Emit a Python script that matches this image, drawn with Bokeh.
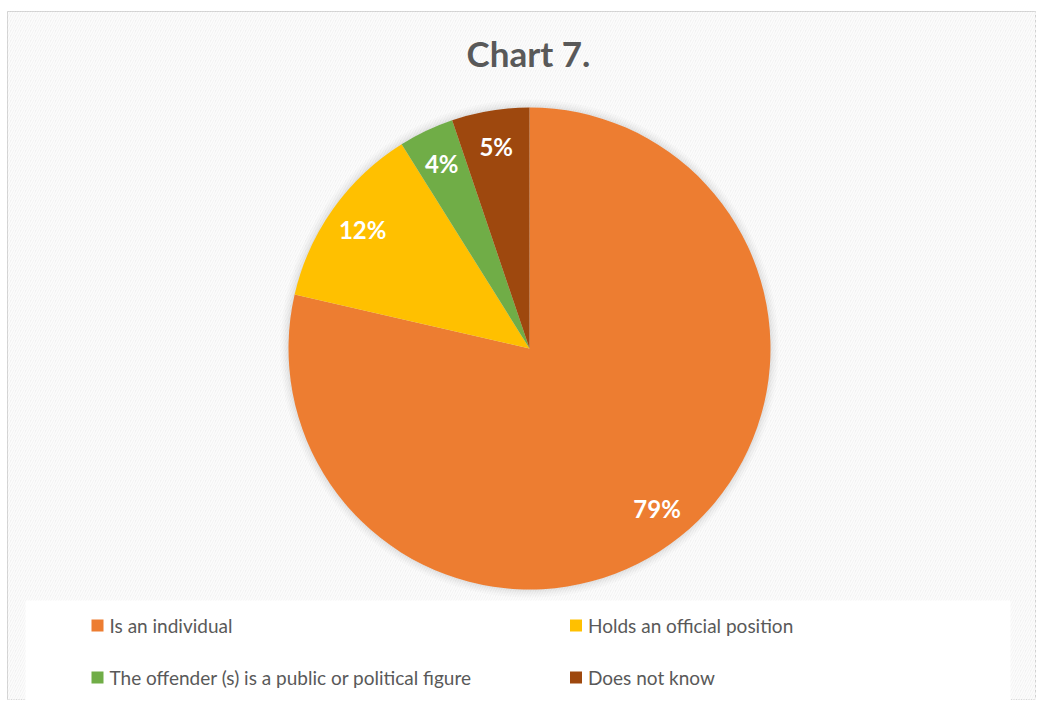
import math
from bokeh.plotting import figure
from bokeh.models import Range1d, ColumnDataSource
from bokeh.core.properties import value
from bokeh.embed import file_html
from bokeh.resources import INLINE

# ---- data ----
categories = [
    "Is an individual",
    "Holds an official position",
    "The offender (s) is a public or political figure",
    "Does not know",
]
shares = [78.6, 12.5, 3.7, 5.2]
labels = ["79%", "12%", "4%", "5%"]
colors = ["#ED7D31", "#FFC000", "#70AD47", "#9E480E"]
title_text = "Chart 7."

# ---- layout ----
W, H = 1036, 700
LEFT, TOP = 7, 11
FW, FH = W - LEFT, H - TOP


def X(rx):
    return rx - LEFT


def Y(ry):
    return H - ry


p = figure(width=W, height=H, x_range=Range1d(0, FW), y_range=Range1d(0, FH),
           output_backend="svg", toolbar_location=None,
           x_axis_location=None, y_axis_location=None,
           min_border_left=LEFT, min_border_right=0, min_border_bottom=0,
           min_border_top=TOP)
p.grid.visible = False
p.outline_line_color = "#CFCFCF"
p.outline_line_width = 1
p.background_fill_color = "#F2F2F2"
p.border_fill_color = "white"

# subtle diagonal texture
p.quad(left=[0], right=[FW], bottom=[0], top=[FH], fill_alpha=0,
       hatch_pattern="/", hatch_color="white", hatch_alpha=0.8,
       hatch_scale=5, hatch_weight=1.5, line_color=None)

# legend background
p.quad(left=[X(25)], right=[X(1010)], bottom=[0], top=[Y(600)],
       fill_color="white", line_color=None)

cx, cy, R = X(529), Y(348), 241

# soft shadow
for k in [8, 6, 4.5, 3, 2, 1]:
    p.circle(x=[cx], y=[cy], radius=R + k, fill_color="#808080",
             fill_alpha=0.035, line_color=None)

total = sum(shares)
starts, ends, lx, ly = [], [], [], []
cum = 0.0
for v in shares:
    a_end = math.pi / 2 - 2 * math.pi * cum / total
    a_start = math.pi / 2 - 2 * math.pi * (cum + v) / total
    starts.append(a_start)
    ends.append(a_end)
    mid = (a_start + a_end) / 2
    lx.append(cx + 0.85 * R * math.cos(mid))
    ly.append(cy + 0.85 * R * math.sin(mid))
    cum += v

src = ColumnDataSource(dict(start=starts, end=ends, color=colors,
                            lx=lx, ly=ly, label=labels, cat=categories))
p.wedge(x=cx, y=cy, radius=R, start_angle="start", end_angle="end",
        fill_color="color", line_color=None, source=src)

p.text(x="lx", y="ly", text="label", source=src, text_align="center",
       text_baseline="middle", text_font=value("Lato"),
       text_font_style="bold", text_font_size="24px", text_color="white")

# title
p.text(x=[X(528)], y=[Y(52)], text=[title_text], text_align="center",
       text_baseline="middle", text_font=value("Lato"),
       text_font_style="bold", text_font_size="35px", text_color="#595959")

# legend
col_x = [X(97), X(575.5)]
row_y = [Y(625), Y(677)]
mx = [col_x[i % 2] for i in range(len(categories))]
my = [row_y[i // 2] for i in range(len(categories))]
lsrc = ColumnDataSource(dict(x=mx, y=my, tx=[v + 12 for v in mx],
                             ty=my, color=colors, cat=categories))
p.rect(x="x", y="y", width=12, height=12, fill_color="color",
       line_color=None, source=lsrc)
p.text(x="tx", y="ty", text="cat", source=lsrc, text_align="left",
       text_baseline="middle", text_font=value("Lato"),
       text_font_size="19px", text_color="#595959")

open("out.html", "w").write(file_html(p, INLINE))
